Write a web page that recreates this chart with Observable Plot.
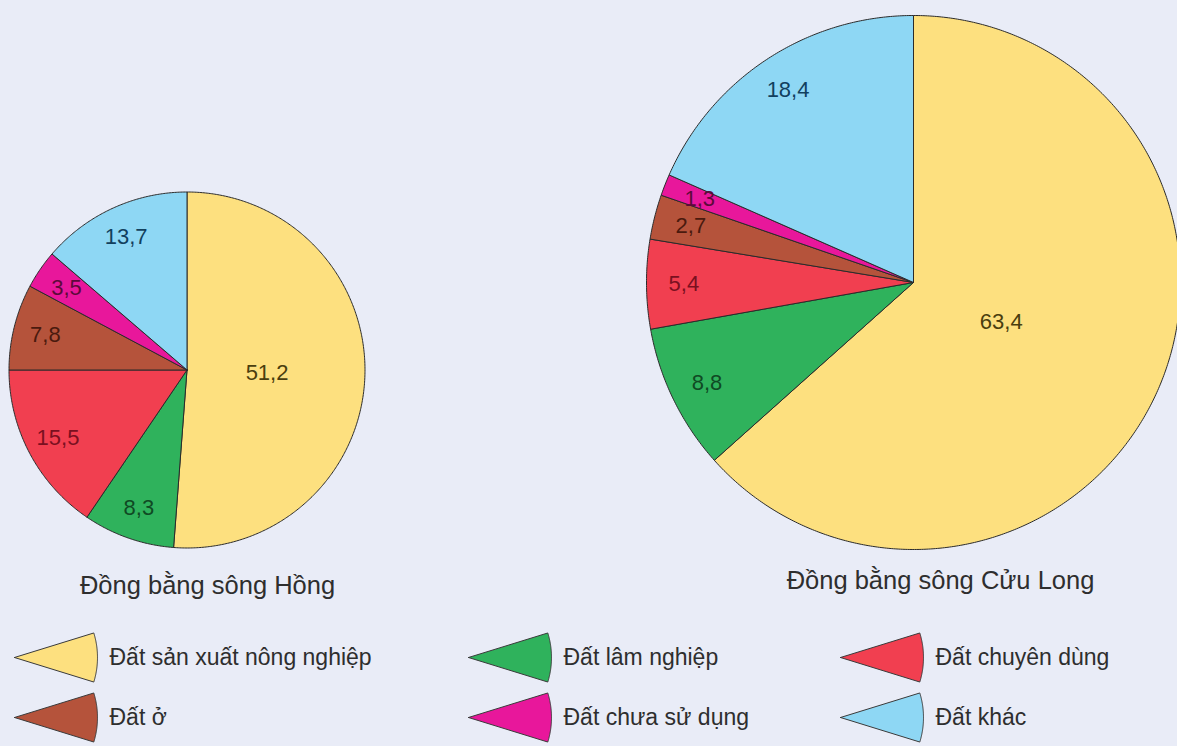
<!DOCTYPE html>
<html><head><meta charset="utf-8">
<script src="https://cdn.jsdelivr.net/npm/d3@7"></script>
<script src="https://cdn.jsdelivr.net/npm/@observablehq/plot@0.6"></script>
<style>
html,body{margin:0;padding:0;background:#e9ecf7;}
#chart svg{display:block;}
</style>
</head><body><div id="chart"></div>
<script>
// ---- data ----
const categories = ["Đất sản xuất nông nghiệp", "Đất lâm nghiệp", "Đất chuyên dùng", "Đất ở", "Đất chưa sử dụng", "Đất khác"];
const regions = ["Đồng bằng sông Hồng", "Đồng bằng sông Cửu Long"];
const valuesHong = [51.2, 8.3, 15.5, 7.8, 3.5, 13.7];
const valuesCuuLong = [63.4, 8.8, 5.4, 2.7, 1.3, 18.4];

// ---- styles / layout ----
const W = 1177, H = 746;
const fillColors = ["#fde07f", "#2fb25c", "#f13f50", "#b5533b", "#e8179b", "#8ed7f4"];
const labelColors = ["#4a3e0e", "#0f4a24", "#7a1020", "#4a1a0e", "#5c0a3a", "#12405e"];
const pieLayout = [
  {cx: 186.5, cy: 369.5, r: 178, labelR: 0.82, bigR: 0.45, titleX: 207, titleY: 585},
  {cx: 913, cy: 282, r: 267, labelR: 0.86, bigR: 0.36, titleX: 940, titleY: 580}
];
const legendLayout = {cols: [14, 468, 840], rows: [657, 717], iconR: 83, textDx: 95};
const fmt = d3.formatLocale({decimal: ",", thousands: ".", grouping: [3], currency: ["", ""]}).format(".1f");

const seriesValues = [valuesHong, valuesCuuLong];

// build wedge polygons (center -> arc -> center)
function wedge(cx, cy, r, a0, a1, key, cat) {
  const pts = [{key, cat, x: cx, y: cy}];
  const n = Math.max(2, Math.ceil((a1 - a0) / (Math.PI / 360)));
  for (let i = 0; i <= n; i++) {
    const a = a0 + (a1 - a0) * i / n;
    pts.push({key, cat, x: cx + r * Math.sin(a), y: cy - r * Math.cos(a)});
  }
  pts.push({key, cat, x: cx, y: cy});
  return pts;
}

const slicePts = [];
const labels = [];
const titles = [];
seriesValues.forEach((vals, p) => {
  const L = pieLayout[p];
  const total = d3.sum(vals);
  const arcs = d3.pie().sort(null).value(d => d)(vals);
  arcs.forEach((a, i) => {
    slicePts.push(...wedge(L.cx, L.cy, L.r, a.startAngle, a.endAngle, `${p}-${i}`, categories[i]));
    const mid = (a.startAngle + a.endAngle) / 2;
    const rr = L.r * (vals[i] / total > 0.5 ? L.bigR : L.labelR);
    labels.push({x: L.cx + rr * Math.sin(mid), y: L.cy - rr * Math.cos(mid), text: fmt(vals[i]), color: labelColors[i]});
  });
  titles.push({x: L.titleX, y: L.titleY, text: regions[p]});
});

// legend
const legendPts = [];
const legendText = [];
categories.forEach((c, i) => {
  const tx = legendLayout.cols[i % 3], ty = legendLayout.rows[Math.floor(i / 3)];
  legendPts.push(...wedge(tx, ty, legendLayout.iconR, Math.PI / 2 - 0.30, Math.PI / 2 + 0.30, `L-${i}`, c));
  legendText.push({x: tx + legendLayout.textDx, y: ty, text: c});
});

const chart = Plot.plot({
  width: W, height: H,
  margin: 0,
  x: {domain: [0, W], axis: null},
  y: {domain: [0, H], reverse: true, axis: null},
  color: {domain: categories, range: fillColors},
  style: {background: "#e9ecf7", fontFamily: "'Liberation Sans', Arial, sans-serif"},
  marks: [
    Plot.line(slicePts, {x: "x", y: "y", z: "key", fill: "cat", stroke: "#2b2b2b", strokeWidth: 1, curve: "linear", strokeLinejoin: "round"}),
    Plot.text(labels, {x: "x", y: "y", text: "text", fill: d => d.color, fontSize: 22}),
    Plot.text(titles, {x: "x", y: "y", text: "text", fill: "#2e2e2e", fontSize: 25.5}),
    Plot.line(legendPts, {x: "x", y: "y", z: "key", fill: "cat", stroke: "#3a3a3a", strokeWidth: 1, curve: "linear", strokeLinejoin: "round"}),
    Plot.text(legendText, {x: "x", y: "y", text: "text", fill: "#2e2e2e", fontSize: 23, textAnchor: "start"})
  ]
});
document.getElementById("chart").appendChild(chart);
</script>
</body></html>
